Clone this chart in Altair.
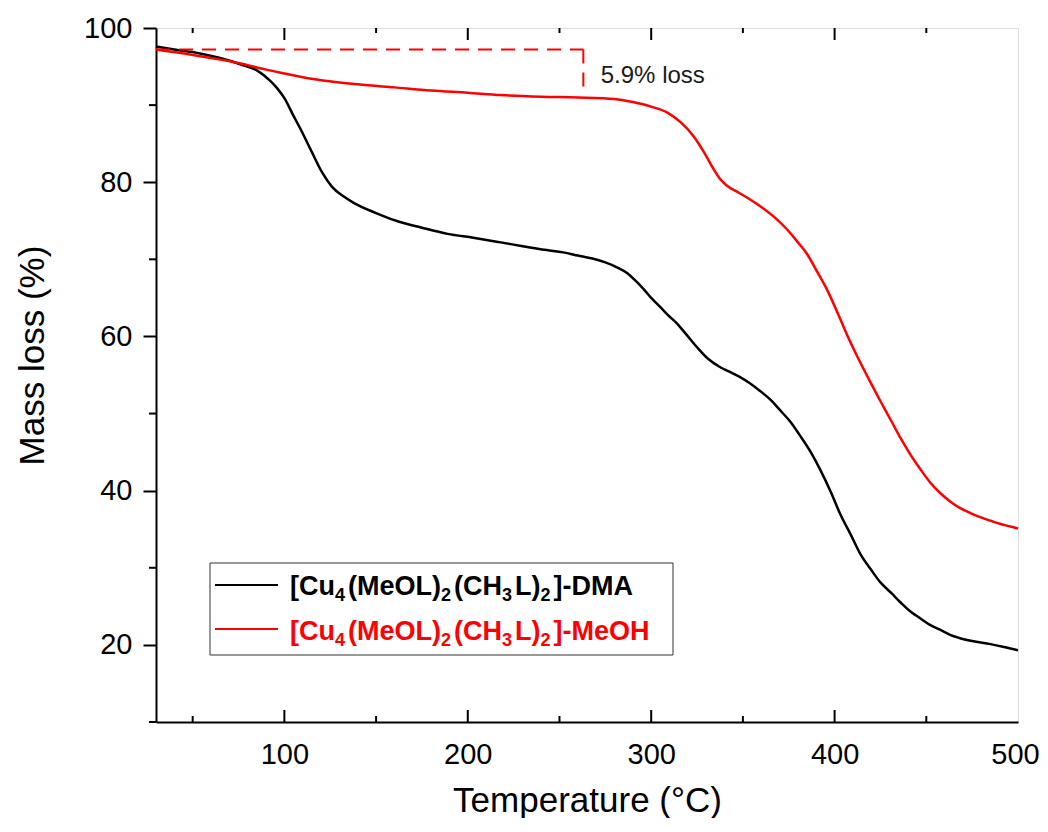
import altair as alt
import pandas as pd

# ---- data ----
dma_T = [30, 40, 54, 65, 76, 85, 92, 96, 100, 105, 109, 115, 120.5, 126, 132, 138, 150, 161, 175, 189,
         203, 218, 230, 243, 252, 260, 268, 275, 281, 287, 292, 296, 300, 305, 309, 314, 319, 325, 331,
         337, 342, 348, 354, 359, 365, 370, 376, 381, 387, 392, 398, 403, 409, 414, 420, 425, 431, 436,
         441, 447, 452, 458, 463, 468, 475, 485, 493, 500]
dma_m = [97.6, 97.2, 96.7, 96.1, 95.3, 94.5, 93.2, 92.2, 90.9, 88.6, 86.8, 83.9, 81.3, 79.4, 78.2, 77.3,
         76.0, 75.0, 74.1, 73.3, 72.8, 72.2, 71.7, 71.2, 70.9, 70.5, 70.1, 69.6, 69.0, 68.2, 67.1, 66.1,
         65.0, 63.8, 62.8, 61.7, 60.3, 58.6, 57.1, 56.1, 55.5, 54.8, 53.9, 53.0, 51.8, 50.5, 48.9, 47.2,
         45.0, 42.8, 39.8, 37.0, 34.2, 31.8, 29.7, 28.1, 26.7, 25.5, 24.4, 23.4, 22.6, 21.9, 21.3, 20.9,
         20.5, 20.1, 19.7, 19.3]

meoh_T = [30, 50, 65, 76, 90, 100, 110, 121, 140, 160, 180, 200, 218, 240, 260, 280, 290, 300, 309, 316,
          323, 329, 334, 338, 341, 348, 355, 360, 367, 374, 380, 385, 390, 396, 401, 407, 413, 419, 425,
          431, 436, 441, 447, 452, 458, 463, 468, 474, 479, 485, 490, 495, 500]
meoh_m = [97.2, 96.5, 95.9, 95.4, 94.6, 94.1, 93.6, 93.2, 92.7, 92.3, 91.9, 91.6, 91.3, 91.1, 91.0, 90.8,
          90.4, 89.8, 89.0, 87.8, 86.0, 83.8, 81.7, 80.3, 79.6, 78.6, 77.6, 76.8, 75.5, 73.9, 72.2, 70.7,
          68.6, 66.0, 63.4, 60.1, 57.1, 54.3, 51.6, 49.0, 46.8, 44.8, 42.7, 41.1, 39.6, 38.6, 37.8, 37.1,
          36.6, 36.1, 35.7, 35.4, 35.1]

# legend labels as (text, is_subscript) pieces
dma_label = [("[Cu", 0), ("4", 1), ("(MeOL)", 0), ("2", 1), ("(CH", 0), ("3", 1), ("L)", 0), ("2", 1), ("]-DMA", 0)]
meoh_label = [("[Cu", 0), ("4", 1), ("(MeOL)", 0), ("2", 1), ("(CH", 0), ("3", 1), ("L)", 0), ("2", 1), ("]-MeOH", 0)]
series_names = ["[Cu4(MeOL)2(CH3L)2]-DMA", "[Cu4(MeOL)2(CH3L)2]-MeOH"]
series_colors = ["#000000", "#ff0000"]

x_labels = [100, 200, 300, 400, 500]
x_minor = [50, 150, 250, 350, 450]
x_major_in = [100, 200, 300, 400]
y_labels = [20, 40, 60, 80, 100]
y_minor = [10, 30, 50, 70, 90]

loss_level = [97.2]
loss_T = [30, 263]
loss_drop_to = [91.7]
note_text = ["5.9% loss"]
note_pos = [272.5, 92.86]

W, H = 862, 694
FONT = "Liberation Sans, Arial, DejaVu Sans"

# ---- tables ----
lines_df = pd.DataFrame(
    {"T": dma_T + meoh_T,
     "m": dma_m + meoh_m,
     "s": [series_names[0]] * len(dma_T) + [series_names[1]] * len(meoh_T)}
)

xs = alt.Scale(domain=[30, 500], nice=False, zero=False)
ys = alt.Scale(domain=[10, 100], nice=False, zero=False)

x_enc = alt.X("T:Q", scale=xs, axis=alt.Axis(
    values=x_labels, ticks=False, tickSize=0, grid=False, labelFontSize=29, labelPadding=18,
    labelColor="black", domainColor="black", domainWidth=2, labelFlush=False,
    labelOffset={"condition": {"test": "datum.value === 500", "value": -3}, "value": 0},
    title="Temperature (°C)", titleFontSize=35, titleFontWeight="normal", titleColor="black",
    titleX=W / 2, titleY=89, titleBaseline="alphabetic", titleAlign="center"))
y_enc = alt.Y("m:Q", scale=ys, axis=alt.Axis(
    values=y_labels, tickSize=13, tickWidth=2, tickColor="black", grid=False,
    labelFontSize=29, labelPadding=11, labelColor="black", domainColor="black", domainWidth=2,
    labelFlush=False,
    title="Mass loss (%)", titleFontSize=35, titleFontWeight="normal", titleColor="black",
    titleX=-113, titleY=327, titleBaseline="alphabetic", titleAlign="center", titleAngle=270))

lines = alt.Chart(lines_df).mark_line(strokeWidth=2.5, interpolate="monotone").encode(
    x=x_enc, y=y_enc,
    color=alt.Color("s:N", scale=alt.Scale(domain=series_names, range=series_colors), legend=None),
    detail="s:N",
)

# dashed annotation
hdf = pd.DataFrame({"T": [loss_T[0]], "T2": [loss_T[1]], "m": loss_level})
hrule = alt.Chart(hdf).mark_rule(color="#ff0000", strokeWidth=2, strokeDash=[14, 9]).encode(
    x=alt.X("T:Q", scale=xs), x2="T2:Q", y=alt.Y("m:Q", scale=ys))
vdf = pd.DataFrame({"T": [loss_T[1]], "m": loss_level, "m2": loss_drop_to})
vrule = alt.Chart(vdf).mark_rule(color="#ff0000", strokeWidth=2, strokeDash=[14, 9]).encode(
    x=alt.X("T:Q", scale=xs), y=alt.Y("m:Q", scale=ys), y2="m2:Q")
ndf = pd.DataFrame({"T": [note_pos[0]], "m": [note_pos[1]], "t": note_text})
note = alt.Chart(ndf).mark_text(align="left", baseline="alphabetic", fontSize=24, font=FONT,
                                color="#1a1a1a").encode(
    x=alt.X("T:Q", scale=xs), y=alt.Y("m:Q", scale=ys), text="t:N")

# inward ticks on bottom and top, outward minor ticks on left
def xticks(vals, y0, y1):
    return alt.Chart(pd.DataFrame({"T": vals})).mark_rule(color="black", strokeWidth=2).encode(
        x=alt.X("T:Q", scale=xs), y=alt.value(y0), y2=alt.value(y1))

bt_major = xticks(x_major_in, H, H - 12)
bt_minor = xticks(x_minor, H, H - 6)
tp_major = xticks(x_major_in, 0, 12)
tp_minor = xticks(x_minor, 0, 5)
lf_minor = alt.Chart(pd.DataFrame({"m": y_minor})).mark_rule(color="black", strokeWidth=2).encode(
    y=alt.Y("m:Q", scale=ys), x=alt.value(-7), x2=alt.value(0))

# manual legend (Arial-Bold advance widths, per 1000 em, for laying out subscript pieces)
ARIAL_BOLD = {"[": 333, "]": 333, "(": 333, ")": 333, "-": 333, "C": 722, "u": 611, "M": 833,
              "e": 556, "O": 778, "L": 611, "H": 722, "D": 722, "A": 722, "o": 611}
F_MAIN, F_SUB = 27, 18


def piece_width(txt, fs):
    return sum(ARIAL_BOLD.get(ch, 556) for ch in txt) * fs / 1000.0


box = alt.Chart(pd.DataFrame({"a": [0]})).mark_rect(fill="white", stroke="#333333", strokeWidth=1).encode(
    x=alt.value(54), x2=alt.value(517), y=alt.value(535), y2=alt.value(627))
leg_layers = []
for i, (pieces, col) in enumerate(zip([dma_label, meoh_label], series_colors)):
    ly = [557, 601][i]
    ty = [567, 612][i]
    leg_layers.append(alt.Chart(pd.DataFrame({"s": [series_names[i]]})).mark_rule(
        color=col, strokeWidth=2).encode(x=alt.value(59), x2=alt.value(122), y=alt.value(ly)))
    xpos = 134.0
    for txt, sub in pieces:
        fs = F_SUB if sub else F_MAIN
        leg_layers.append(alt.Chart(pd.DataFrame({"t": [txt]})).mark_text(
            align="left", baseline="alphabetic", fontSize=fs, fontWeight="bold", font=FONT,
            color=col, dy=6 if sub else 0).encode(
            x=alt.value(xpos), y=alt.value(ty), text="t:N"))
        xpos += piece_width(txt, fs) + (3 if sub else 0)

chart = alt.layer(
    lines, hrule, vrule, note, bt_major, bt_minor, tp_major, tp_minor, lf_minor, box, *leg_layers
).properties(
    width=W, height=H,
    autosize=alt.AutoSizeParams(type="none"),
    padding={"left": 148, "top": 20, "right": 22, "bottom": 96},
).configure_view(
    stroke="black", strokeWidth=2
).configure(
    font=FONT, background="white"
)

chart.save("out.html", embed_options={"renderer": "svg", "actions": False})
